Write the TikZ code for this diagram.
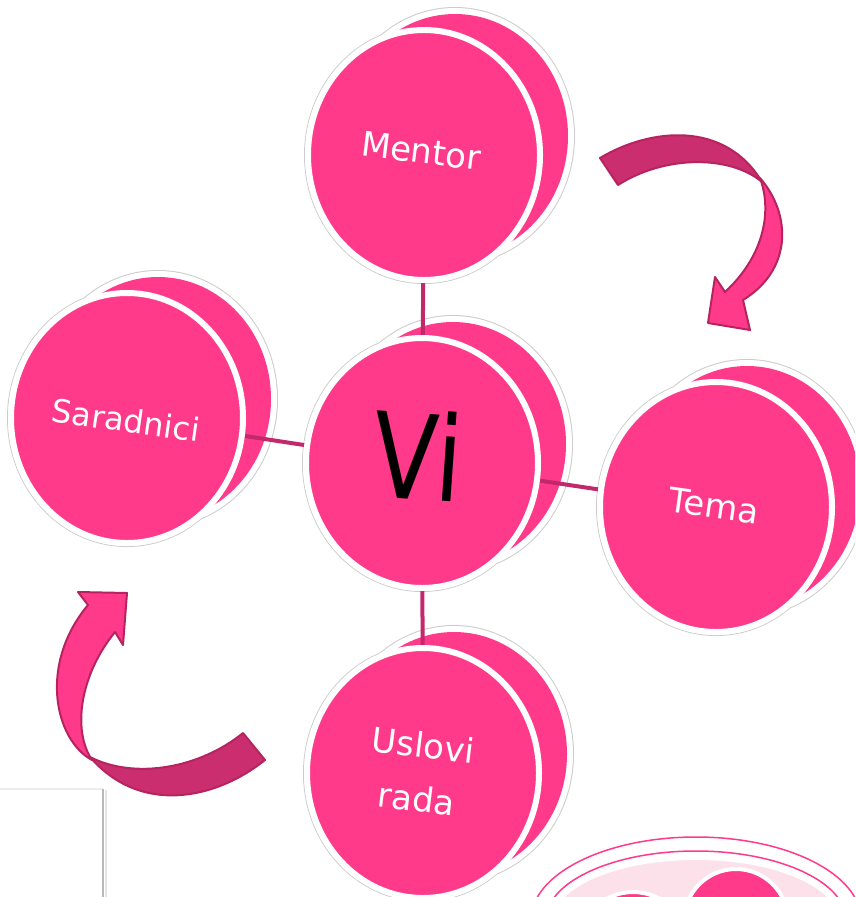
\documentclass[tikz,border=0pt]{standalone}
\usepackage{fontspec}
\setmainfont{DejaVu Sans}
\usepackage{tikz}
\usepackage{xcolor}
\definecolor{discpink}{HTML}{FF3A8A}
\definecolor{linkpink}{HTML}{C2296B}
\definecolor{ribbondark}{HTML}{CB2E6F}
\definecolor{ribbonedge}{HTML}{B6235F}
\definecolor{palepink}{HTML}{FDE1EA}
\tikzset{
    disc-halo/.style = {fill=gray!40},
    disc-gap/.style = {fill=white},
    disc-back/.style = {fill=discpink},
    disc-front/.style = {fill=discpink, draw=white, line width=6pt},
    disc-label/.style = {text=white, font=\fontsize{34}{54}\selectfont, align=center},
    link-line/.style = {draw=linkpink, line width=4pt},
    ribbon-back/.style = {fill=ribbondark, draw=ribbonedge, line width=2pt, line join=round},
    ribbon-front/.style = {fill=discpink, draw=ribbonedge, line width=2pt, line join=round},
}

\begin{document}
\begin{tikzpicture}[x=1pt, y=-1pt]
\useasboundingbox (0,0) rectangle (855,897);
\clip (0,0) rectangle (855,897);

\coordinate (mentor) at (424,155);
\coordinate (saradnici) at (127,418);
\coordinate (vi) at (422,463);
\coordinate (tema) at (716,507);
\coordinate (uslovi) at (423,773);

% corner of the sheet behind, bottom left
\draw[gray!15, line width=2pt] (0,789) -- (103,789);
\draw[gray!55, line width=1.5pt] (103,789) -- (103,897);
\draw[gray!20, line width=2pt] (105.5,790) -- (105.5,897);

% outline round front and back disc
\foreach \n in {mentor,saradnici,vi,tema,uslovi} {
    \fill[disc-halo] ([shift={(31,-19)}]\n) ellipse [x radius=120pt, y radius=129pt]
        (\n) ellipse [x radius=120pt, y radius=129pt];
    \fill[disc-gap] ([shift={(31,-19)}]\n) ellipse [x radius=119pt, y radius=128pt]
        (\n) ellipse [x radius=119pt, y radius=128pt];
    \fill[disc-back] ([shift={(31,-19)}]\n) ellipse [x radius=113pt, y radius=122pt];
}

\draw[link-line] (mentor) -- (vi);
\draw[link-line] (vi) -- (uslovi);
\draw[link-line] (saradnici) -- (vi);
\draw[link-line] (vi) -- (tema);

\foreach \n in {mentor,saradnici,vi,tema,uslovi}
    \draw[disc-front] (\n) ellipse [x radius=116pt, y radius=125pt];

\node[disc-label, rotate=-7] (mentor-label) at (421,151) {Mentor};
\node[disc-label, rotate=-8, font=\fontsize{32}{54}\selectfont] (saradnici-label) at (126,420) {Saradnici};
\node[disc-label, rotate=-8] (tema-label) at (714,506) {Tema};
\node[disc-label, rotate=-7] (uslovi-label) at (420,772) {Uslovi\\rada};
\node[text=black, font=\fontsize{118}{118}\selectfont, rotate=-4, xscale=0.8] (vi-label) at (418,455) {Vi};

% turning arrows
\filldraw[ribbon-front] (760,178) .. controls (792,215) and (792,270) .. (743,300)
    -- (750,330) -- (708,323) -- (715,277) -- (725,292)
    .. controls (765,255) and (772,210) .. (760,178) -- cycle;
\filldraw[ribbon-back] (600,158) .. controls (650,128) and (725,120) .. (762,182)
    .. controls (730,155) and (665,155) .. (618,185) -- cycle;

\filldraw[ribbon-front] (88,605) -- (78,592) -- (127,593) -- (123,645) -- (115,632)
    .. controls (80,675) and (72,730) .. (92,760)
    .. controls (55,740) and (38,665) .. (88,605) -- cycle;
\filldraw[ribbon-back] (90,757) .. controls (140,815) and (215,800) .. (265,760)
    -- (243,733) .. controls (200,768) and (135,780) .. (90,757) -- cycle;

% next shape, bottom right
\draw[discpink, line width=1.5pt] (696,920) ellipse [x radius=165pt, y radius=83pt];
\draw[discpink, line width=1.5pt] (696,920) ellipse [x radius=150pt, y radius=69pt];
\fill[palepink] (696,922) ellipse [x radius=143pt, y radius=62pt];
\filldraw[fill=discpink, draw=white, line width=4pt] (633,947) circle [radius=55pt];
\filldraw[fill=discpink, draw=white, line width=4pt] (736,921) circle [radius=52pt];
\end{tikzpicture}
\end{document}
